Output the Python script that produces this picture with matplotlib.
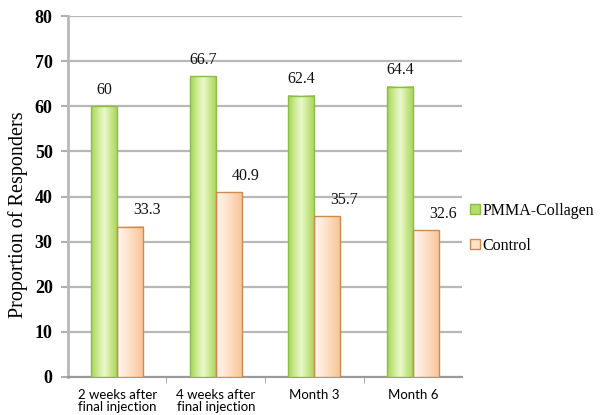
import numpy as np
import matplotlib.pyplot as plt
from matplotlib.colors import LinearSegmentedColormap
from matplotlib.patches import Rectangle

# responder rates at each follow-up visit
categories = ["2 weeks after\nfinal injection", "4 weeks after\nfinal injection", "Month 3", "Month 6"]
pmma = [60, 66.7, 62.4, 64.4]
control = [33.3, 40.9, 35.7, 32.6]
pmma_labels = ["60", "66.7", "62.4", "64.4"]
control_labels = ["33.3", "40.9", "35.7", "32.6"]

serif = "Liberation Serif"

fig = plt.figure(figsize=(6.01, 4.15), dpi=100)
ax = fig.add_axes([0.113, 0.092, 0.656, 0.869])

x = np.arange(len(categories))
w = 0.265

# shaded fills so the bars look rounded like the original chart
green_cmap = LinearSegmentedColormap.from_list("g", ["#a5d357", "#cdeb92", "#eaf8cc", "#c8e78a", "#a8d35c"])
orange_cmap = LinearSegmentedColormap.from_list("o", ["#fff6ef", "#fde8d6", "#fbd5b4", "#f8c395"])
ramp = np.linspace(0, 1, 64).reshape(1, -1)

def draw_bars(xs, vals, cmap, edge):
    for xi, v in zip(xs, vals):
        ax.imshow(ramp, cmap=cmap, aspect="auto", extent=(xi - w / 2, xi + w / 2, 0, v), zorder=3)
        ax.add_patch(Rectangle((xi - w / 2, 0), w, v, fill=False, ec=edge, lw=1.0, zorder=4))

draw_bars(x - w / 2, pmma, green_cmap, "#8cbd46")
draw_bars(x + w / 2, control, orange_cmap, "#d08a4e")

for xi, v, s in zip(x - w / 2, pmma, pmma_labels):
    ax.annotate(s, (xi, v), xytext=(0, 6), textcoords="offset points", ha="center", va="bottom",
                fontsize=11.5, family=serif, color="#111111")
for xi, v, s in zip(x + w / 2, control, control_labels):
    ax.annotate(s, (xi, v), xytext=(12, 6), textcoords="offset points", ha="center", va="bottom",
                fontsize=11.5, family=serif, color="#111111")

ax.set_xlim(-0.5, len(categories) - 0.5)
ax.set_ylim(0, 80)
ax.set_yticks(range(0, 81, 10))
ax.set_yticklabels([str(v) for v in range(0, 81, 10)], family=serif, fontsize=13, fontweight="bold")
ax.set_xticks(x)
ax.set_xticklabels(categories, family="Lato", fontsize=9.5, linespacing=1.0)
ax.set_xticks(np.arange(0.5, len(categories) - 1, 1), minor=True)
ax.tick_params(axis="x", which="major", length=0, pad=9)
ax.tick_params(axis="x", which="minor", length=4, color="#9a9a9a")
ax.tick_params(axis="y", length=5, color="#b0b0b0", width=1.5, pad=6)

ax.yaxis.grid(True, color="#b8b8b8", lw=1.6)
ax.set_axisbelow(True)
for side in ["top", "right"]:
    ax.spines[side].set_visible(False)
ax.spines["left"].set_color("#b8b8b8")
ax.spines["left"].set_linewidth(2)
ax.spines["bottom"].set_color("#9a9a9a")
ax.spines["bottom"].set_linewidth(1.5)

ax.set_ylabel("Proportion of Responders", family=serif, fontsize=14.5)
ax.yaxis.set_label_coords(-0.1, 0.45)

handles = [Rectangle((0, 0), 1, 1, fc="#b5dd6a", ec="#8cbd46"),
           Rectangle((0, 0), 1, 1, fc="#fde2cc", ec="#d08a4e")]
fig.legend(handles, ["PMMA-Collagen", "Control"], loc="center left", bbox_to_anchor=(0.777, 0.45),
           frameon=False, prop={"family": serif, "size": 11.5}, handlelength=0.6, handleheight=0.6,
           handletextpad=0.15, labelspacing=1.2, borderaxespad=0, borderpad=0.2)

fig.savefig("out.png", dpi=100)
